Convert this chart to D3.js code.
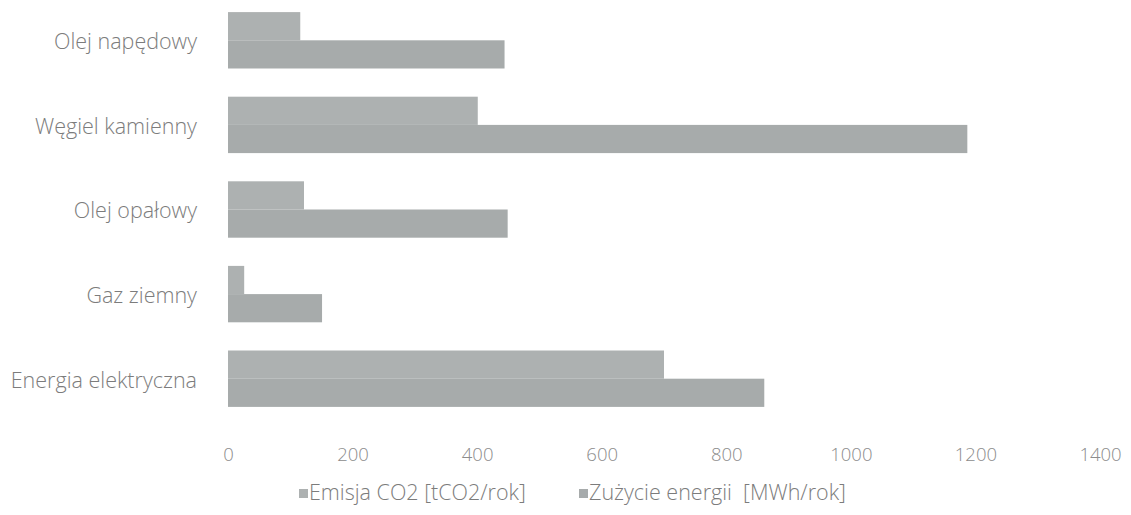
<!DOCTYPE html>
<html>
<head>
<meta charset="utf-8">
<script src="https://cdn.jsdelivr.net/npm/d3@7"></script>
<style>
html,body{margin:0;padding:0;background:#fff;}
svg{display:block;}
text{font-family:"Open Sans","Lato","DejaVu Sans",sans-serif;font-weight:300;}
</style>
</head>
<body>
<svg id="chart" width="1131" height="515"></svg>
<script>
const categories = ["Olej napędowy", "Węgiel kamienny", "Olej opałowy", "Gaz ziemny", "Energia elektryczna"];
const emisja = [116, 401, 122, 26, 700];
const zuzycie = [444, 1187, 449, 151, 861];
const seriesNames = ["Emisja CO2 [tCO2/rok]", "Zużycie energii  [MWh/rok]"];
const xTicks = [0, 200, 400, 600, 800, 1000, 1200, 1400];

const svg = d3.select("#chart");
const margin = {left: 228, right: 31, top: -2, bottom: 94};
const W = 1131, H = 515;

const x = d3.scaleLinear().domain([0, 1400]).range([margin.left, W - margin.right]);
const y = d3.scaleBand().domain(categories).range([margin.top, H - margin.bottom]).paddingInner(1/3).paddingOuter(1/6);
const sub = d3.scaleBand().domain([0, 1]).range([0, y.bandwidth()]);

const colors = ["#adb1b1", "#a7abab"];
const series = [emisja, zuzycie];

series.forEach((vals, si) => {
  svg.append("g").selectAll("rect").data(categories).join("rect")
    .attr("x", x(0))
    .attr("y", c => y(c) + sub(si))
    .attr("width", (c, i) => x(vals[i]) - x(0))
    .attr("height", sub.bandwidth())
    .attr("fill", colors[si]);
});

// category axis
const yAxis = svg.append("g").attr("transform", `translate(${x(0) - 31},2)`)
  .call(d3.axisLeft(y).tickSize(0).tickPadding(0));
yAxis.select(".domain").remove();
yAxis.selectAll("text").attr("fill", "#7c7c7c").attr("font-size", 21.5);

// value axis
const xAxis = svg.append("g").attr("transform", `translate(0,461)`)
  .call(d3.axisBottom(x).tickValues(xTicks).tickSize(0).tickPadding(0).tickFormat(d3.format("d")));
xAxis.select(".domain").remove();
xAxis.selectAll("text").attr("fill", "#8c8c8c").attr("font-size", 18.5).attr("dy", "0");

// legend
const legend = svg.append("g").attr("transform", "translate(0,500)");
const legX = [299, 579];
seriesNames.forEach((n, i) => {
  const g = legend.append("g").attr("transform", `translate(${legX[i]},0)`);
  g.append("rect").attr("x", 0).attr("y", -11).attr("width", 9).attr("height", 9).attr("fill", colors[i]);
  g.append("text").attr("x", 10).attr("y", 0)
    .style("white-space", "pre")
    .attr("fill", "#7c7c7c").attr("font-size", 21.5).text(n);
});
</script>
</body>
</html>
